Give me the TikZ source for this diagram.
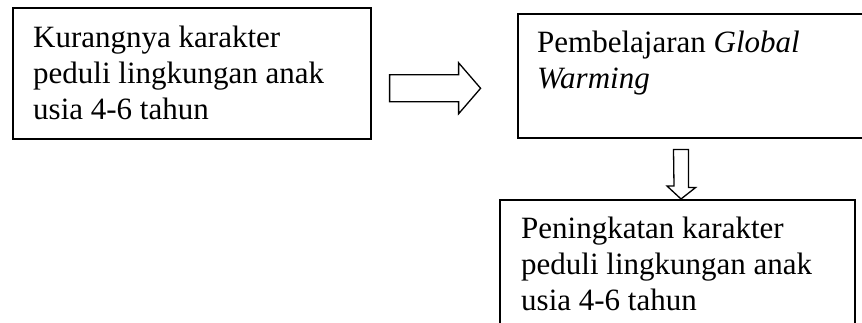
\documentclass[tikz,border=0pt]{standalone}
\usepackage{fontspec}
\setmainfont{Liberation Serif}
\usetikzlibrary{
    positioning,
    calc
}
\tikzset {
    kotak/.style = {draw, line width = 1.6pt, inner sep = 0pt, anchor = north west},
    teks/.style = {align = left, inner sep = 0pt, anchor = north west,
                   font = \fontsize{31pt}{36pt}\selectfont},
    panah/.style = {draw, line width = 1.3pt, line join = miter}
}

\begin{document}
\begin{tikzpicture}[x = 1pt, y = 1pt]
            \useasboundingbox (0, 0) rectangle (862, -323);
            \clip (0, 0) rectangle (862, -323);
            % kotak
            \node (kurang) [kotak, minimum width = 358pt, minimum height = 131pt] at (12, -7) {};
            \node (belajar) [kotak, minimum width = 420pt, minimum height = 124pt] at (517, -13) {};
            \node (tingkat) [kotak, minimum width = 355pt, minimum height = 150pt] at (499, -199) {};
            % teks
            \node (kurangteks) [teks] at ($(kurang.north west) + (21, -19)$)
                {Kurangnya karakter\\peduli lingkungan anak\\usia 4-6 tahun};
            \node (belajarteks) [teks] at ($(belajar.north west) + (20, -18)$)
                {Pembelajaran \textit{Global}\\\textit{Warming}};
            \node (tingkatteks) [teks] at ($(tingkat.north west) + (22, -18)$)
                {Peningkatan karakter\\peduli lingkungan anak\\usia 4-6 tahun};
            % panah
            \coordinate (ekor1) at ($(kurang.east) + (18, -15)$);
            \coordinate (ekor2) at ($(belajar.south west) + (164, -11)$);
            \draw [panah] (ekor1) ++(0, 13.5) -- ++(69, 0) -- ++(0, 12)
                -- ++(22, -25.5) -- ++(-22, -25.5) -- ++(0, 12) -- ++(-69, 0) -- cycle;
            \draw [panah] (ekor2) ++(-7.5, 0) -- ++(15, 0) -- ++(0, -38) -- ++(7, 0)
                -- (ekor2 |- tingkat.north) -- ++(-14, 13) -- ++(7, 0) -- cycle;
        \end{tikzpicture}
\end{document}
